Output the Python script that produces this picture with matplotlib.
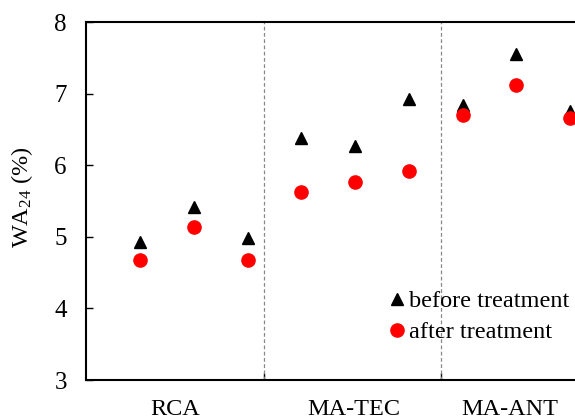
import matplotlib.pyplot as plt

plt.rcParams['font.family'] = ['Liberation Serif', 'DejaVu Serif']
plt.rcParams['mathtext.fontset'] = 'custom'
plt.rcParams['mathtext.rm'] = 'Liberation Serif'
plt.rcParams['mathtext.it'] = 'Liberation Serif:italic'

# sample positions and measured water absorption
positions = [1, 2, 3, 4, 5, 6, 7, 8, 9]
before = [4.93, 5.42, 4.99, 6.38, 6.27, 6.92, 6.84, 7.55, 6.76]
after = [4.67, 5.13, 4.67, 5.63, 5.76, 5.92, 6.70, 7.12, 6.66]

groups = ['RCA', 'MA-TEC', 'MA-ANT']
group_centers = [1.65, 4.97, 7.88]
separators = [3.31, 6.60]

fig = plt.figure(figsize=(5.75, 4.19), dpi=100)
ax = fig.add_axes([86.25 / 575, 39 / 419, 537.5 / 575, 358 / 419])

ax.plot(positions, before, linestyle='none', marker='^', color='black',
        markersize=9, label='before treatment')
ax.plot(positions, after, linestyle='none', marker='o', color='#ff0000',
        markersize=9.5, label='after treatment')

for s in separators:
    ax.axvline(s, color='#888888', linestyle=(0, (3, 2)), linewidth=0.9)

ax.set_xlim(0, 10)
ax.set_ylim(3, 8)
ax.set_xticks(separators)
ax.set_xticklabels([])
ax.set_yticks([3, 4, 5, 6, 7, 8])
ax.tick_params(axis='y', direction='in', length=5, width=1, labelsize=18, pad=14)
ax.tick_params(axis='x', direction='in', length=5, width=1)
for side in ['left', 'bottom', 'top']:
    ax.spines[side].set_linewidth(1.5)
ax.spines['right'].set_visible(False)

for name, c in zip(groups, group_centers):
    ax.text(c, -0.053, name, transform=ax.get_xaxis_transform(),
            ha='center', va='top', fontsize=17.5)

fig.text(22 / 575, 1 - 197 / 419, 'WA$_{24}$ (%)', rotation=90,
         ha='center', va='center', fontsize=17.5)

ax.legend(loc='upper left', bbox_to_anchor=((390 - 86.25) / 537.5, (380 - 290) / 358),
          frameon=False, fontsize=17.5, handlelength=0.6, handletextpad=0.2,
          labelspacing=0.38, borderpad=0, borderaxespad=0, markerscale=1)

fig.savefig('out.png', dpi=100)
